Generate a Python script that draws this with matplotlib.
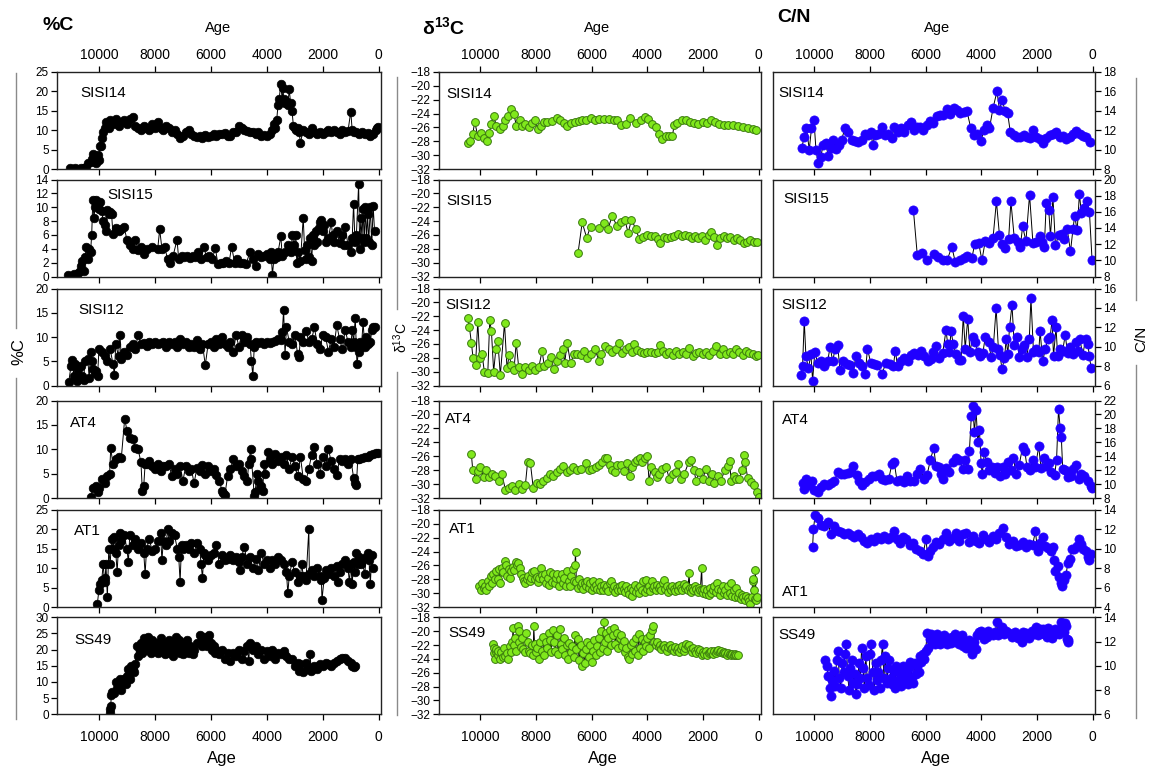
import matplotlib
matplotlib.use('Agg')
import matplotlib.pyplot as plt
from matplotlib.lines import Line2D

plt.rcParams['font.family'] = ['Liberation Sans', 'DejaVu Sans']
plt.rcParams['mathtext.fontset'] = 'custom'
plt.rcParams['mathtext.rm'] = 'Liberation Sans'
plt.rcParams['mathtext.bf'] = 'Liberation Sans:bold'
plt.rcParams['mathtext.it'] = 'Liberation Sans:italic'

# ---------------- data: (age, value) ----------------
cores = ['SISI14', 'SISI15', 'SISI12', 'AT4', 'AT1', 'SS49']
age_ticks = [10000, 8000, 6000, 4000, 2000, 0]

# %C
sisi14_pc = [(11050,0.2),(10950,0.1),(10850,0.2),(10750,0.1),(10650,0.3),(10550,0.2),(10450,0.5),(10380,1.5),(10300,1.8),(10250,2.5),(10200,3.8),(10150,2.8),(10100,1.5),(10050,3.5),(10000,2.2),(9980,6.0),(9940,5.8),(9900,8.0),(9850,9.5),(9800,10.5),(9750,12.0),(9700,11.0),(9650,10.5),(9600,12.5),(9500,11.5),(9400,12.8),(9300,11.0),(9200,12.0),(9100,12.5),(9000,11.5),(8900,13.0),(8800,13.5),(8700,11.0),(8600,10.5),(8500,10.0),(8400,11.0),(8300,10.5),(8200,10.0),(8100,11.5),(8000,10.5),(7900,12.0),(7800,10.5),(7700,10.0),(7600,11.0),(7500,10.5),(7400,9.5),(7300,10.0),(7200,9.0),(7100,8.0),(7000,8.5),(6900,9.5),(6800,10.0),(6700,9.0),(6600,8.5),(6500,8.3),(6400,8.5),(6300,8.0),(6200,8.8),(6100,8.3),(6000,8.5),(5900,9.0),(5800,8.5),(5700,9.0),(5600,9.0),(5500,9.2),(5400,8.5),(5300,8.5),(5200,9.5),(5100,9.5),(5000,11.0),(4900,10.5),(4800,10.0),(4700,9.8),(4600,9.5),(4500,9.5),(4400,9.0),(4300,9.5),(4200,8.5),(4100,8.8),(4000,8.5),(3900,9.0),(3800,10.0),(3750,11.5),(3700,10.5),(3650,12.5),(3600,16.5),(3560,18.0),(3500,22.0),(3450,17.5),(3420,21.0),(3400,18.0),(3350,17.0),(3300,17.5),(3250,16.5),(3200,20.5),(3150,17.0),(3100,15.0),(3050,11.0),(3000,10.5),(2950,10.0),(2900,10.5),(2850,9.5),(2800,6.8),(2700,10.0),(2600,9.5),(2500,9.0),(2400,10.5),(2300,9.5),(2200,9.0),(2100,9.5),(2000,9.0),(1900,9.5),(1800,10.0),(1700,9.5),(1600,10.0),(1500,9.5),(1400,9.0),(1300,10.0),(1200,9.5),(1100,9.8),(1000,14.8),(950,10.0),(900,9.5),(800,9.5),(700,9.0),(600,9.5),(500,9.0),(400,9.3),(300,8.5),(200,9.0),(100,10.0),(50,10.5),(20,10.8)]

sisi15_pc = [(11100,0.2),(11000,0.1),(10900,0.3),(10800,0.4),(10700,0.6),(10650,1.5),(10600,2.2),(10550,0.8),(10500,2.8),(10450,4.2),(10400,2.5),(10350,4.0),(10300,3.6),(10260,6.0),(10220,11.1),(10180,8.4),(10140,10.0),(10100,11.0),(10050,10.2),(10000,9.8),(9950,10.8),(9900,9.4),(9850,8.0),(9800,7.5),(9750,6.6),(9700,9.6),(9650,9.0),(9600,9.3),(9550,9.0),(9500,6.2),(9400,7.0),(9300,6.5),(9200,6.8),(9100,7.1),(9000,5.3),(8900,4.6),(8800,4.0),(8700,5.2),(8600,3.8),(8500,4.2),(8400,3.3),(8300,4.0),(8100,4.2),(7900,4.0),(7830,6.8),(7750,4.0),(7650,4.3),(7550,2.5),(7450,2.0),(7350,3.0),(7210,5.3),(7150,2.5),(7050,3.0),(6950,2.8),(6850,3.0),(6750,2.7),(6650,3.0),(6550,2.8),(6450,3.5),(6350,2.5),(6255,4.2),(6150,2.8),(6050,3.0),(5950,2.5),(5840,4.1),(5750,1.8),(5650,2.0),(5550,2.0),(5450,2.2),(5350,2.0),(5260,4.3),(5150,2.0),(5050,2.5),(4950,2.0),(4850,2.0),(4750,1.8),(4600,3.5),(4500,2.5),(4400,1.5),(4300,3.2),(4200,2.8),(4100,3.0),(4000,3.2),(3900,2.5),(3850,3.5),(3800,0.2),(3750,2.5),(3650,2.8),(3600,3.5),(3500,5.8),(3450,3.0),(3350,3.5),(3250,4.5),(3150,3.5),(3085,6.0),(3030,4.5),(2965,6.0),(2930,2.0),(2870,3.5),(2800,2.2),(2700,8.5),(2650,3.8),(2600,2.5),(2550,4.5),(2500,2.8),(2450,5.5),(2400,2.2),(2350,6.0),(2300,4.5),(2250,6.5),(2200,5.0),(2150,7.0),(2100,7.8),(2050,8.2),(2000,6.5),(1950,7.5),(1900,5.0),(1800,5.5),(1700,7.8),(1650,6.0),(1600,5.0),(1500,6.5),(1400,4.8),(1300,6.0),(1250,4.5),(1200,7.2),(1100,4.5),(1000,3.5),(950,5.5),(900,10.5),(850,5.0),(800,6.0),(720,13.3),(680,4.0),(640,8.5),(600,5.5),(560,9.8),(520,5.0),(480,10.0),(440,5.5),(400,9.0),(360,5.0),(300,10.0),(250,4.5),(200,10.2),(150,6.5)]

sisi12_pc = [(11080,0.7),(11000,4.0),(10950,5.2),(10900,2.0),(10850,4.5),(10800,1.0),(10750,3.5),(10700,1.5),(10650,4.0),(10600,2.0),(10550,1.2),(10500,5.0),(10400,5.5),(10350,1.5),(10300,7.0),(10250,5.0),(10200,3.5),(10150,2.5),(10100,3.0),(10050,2.0),(10000,7.5),(9900,7.0),(9800,6.0),(9700,5.0),(9600,7.5),(9500,4.5),(9450,2.2),(9400,8.5),(9300,6.0),(9250,10.5),(9200,5.5),(9100,7.0),(9000,6.2),(8900,8.0),(8800,8.5),(8700,7.5),(8600,10.5),(8500,8.5),(8400,8.8),(8300,8.2),(8200,9.0),(8100,8.5),(8000,9.0),(7900,8.5),(7800,8.8),(7700,9.0),(7600,8.0),(7500,9.0),(7400,8.5),(7300,9.0),(7200,8.0),(7100,9.5),(7000,8.5),(6900,9.0),(6800,8.0),(6700,8.5),(6600,8.0),(6500,9.3),(6400,7.5),(6300,8.5),(6200,4.2),(6100,8.5),(6000,9.0),(5900,8.0),(5800,9.5),(5700,8.5),(5600,10.0),(5500,8.5),(5400,8.0),(5300,9.0),(5200,7.0),(5100,10.5),(5000,8.0),(4900,10.5),(4800,9.0),(4700,10.0),(4600,8.5),(4550,5.0),(4500,2.0),(4450,8.0),(4400,9.0),(4300,8.8),(4200,9.0),(4100,8.5),(4000,9.0),(3900,8.8),(3800,9.0),(3700,9.2),(3600,9.5),(3500,9.3),(3450,11.0),(3400,15.5),(3350,6.3),(3300,12.0),(3200,9.0),(3100,8.5),(3000,10.5),(2900,6.5),(2850,5.8),(2800,10.0),(2700,9.0),(2600,11.3),(2500,9.0),(2400,9.5),(2300,12.0),(2200,8.5),(2100,7.5),(2000,10.5),(1900,10.0),(1800,7.0),(1700,9.5),(1600,8.0),(1500,12.5),(1400,9.5),(1300,7.5),(1200,11.5),(1100,9.0),(1000,8.0),(950,11.5),(900,9.0),(840,14.0),(800,8.0),(780,4.5),(720,7.0),(680,9.0),(620,8.0),(560,13.0),(500,8.0),(450,10.0),(400,8.5),(300,9.0),(250,11.5),(200,12.0),(150,12.0)]

at4_pc = [(10300,0.3),(10200,2.0),(10100,2.5),(10050,1.3),(10000,2.0),(9900,4.0),(9800,3.0),(9700,4.5),(9620,5.0),(9580,10.2),(9500,7.0),(9400,8.0),(9300,8.5),(9200,8.3),(9080,16.3),(9000,13.8),(8900,12.3),(8800,12.2),(8700,10.3),(8600,10.0),(8500,7.3),(8450,1.5),(8400,2.5),(8350,7.0),(8300,7.0),(8200,7.5),(8100,6.5),(8000,6.0),(7900,7.0),(7800,5.5),(7700,6.5),(7600,6.5),(7500,7.0),(7400,4.5),(7300,6.0),(7200,5.0),(7100,6.5),(7000,3.5),(6900,6.5),(6800,5.5),(6700,6.0),(6600,3.0),(6500,6.2),(6400,5.5),(6300,6.8),(6200,5.0),(6100,6.5),(6000,5.5),(5900,6.0),(5800,4.8),(5700,3.5),(5600,1.5),(5550,1.0),(5500,0.7),(5400,4.5),(5300,6.0),(5200,8.0),(5100,6.5),(5000,7.0),(4900,5.5),(4800,4.5),(4700,3.5),(4650,7.0),(4580,10.0),(4550,8.0),(4450,0.5),(4420,1.2),(4350,5.0),(4300,3.5),(4250,2.0),(4200,2.5),(4150,1.5),(4100,7.0),(4050,5.0),(3950,9.5),(3900,8.0),(3800,7.0),(3700,9.0),(3600,7.5),(3500,8.5),(3400,7.0),(3300,8.8),(3200,6.0),(3100,8.5),(3000,6.5),(2900,4.5),(2800,8.5),(2700,4.0),(2600,3.5),(2500,6.0),(2400,8.8),(2300,10.5),(2200,7.0),(2100,5.0),(2000,8.5),(1900,6.5),(1800,10.0),(1700,7.5),(1600,6.0),(1500,4.8),(1400,8.0),(1300,7.5),(1200,8.0),(1100,7.0),(1000,8.0),(900,4.2),(850,3.0),(800,2.6),(750,8.0),(700,8.0),(600,8.2),(500,8.5),(400,8.5),(300,8.8),(200,9.0),(100,9.2),(30,9.3)]

at1_pc = [(10060,0.7),(10000,4.5),(9950,6.0),(9900,7.0),(9850,11.0),(9800,6.5),(9780,7.5),(9750,11.0),(9700,2.5),(9650,15.0),(9600,11.0),(9550,17.5),(9500,15.0),(9450,18.0),(9400,14.0),(9350,9.0),(9300,16.0),(9250,19.0),(9200,17.0),(9100,18.5),(9000,15.0),(8950,11.5),(8900,18.5),(8800,16.0),(8700,17.5),(8600,15.0),(8500,16.5),(8400,14.0),(8350,8.5),(8300,15.0),(8200,17.5),(8100,14.5),(8000,15.0),(7900,17.0),(7800,19.0),(7750,12.0),(7700,17.0),(7600,16.0),(7550,20.0),(7500,17.0),(7400,19.0),(7300,18.5),(7200,15.0),(7150,13.0),(7100,6.5),(7050,16.0),(7000,15.0),(6900,16.0),(6800,15.0),(6700,16.5),(6600,14.0),(6500,16.5),(6400,15.0),(6350,11.0),(6300,7.5),(6250,14.0),(6200,13.5),(6100,12.0),(6000,13.5),(5900,14.0),(5800,16.0),(5700,11.0),(5600,13.5),(5500,12.0),(5400,12.5),(5300,13.5),(5200,12.0),(5100,13.0),(5000,11.5),(4950,9.5),(4900,13.0),(4800,15.5),(4700,11.0),(4600,13.0),(4500,10.0),(4400,12.5),(4300,9.5),(4200,14.0),(4100,11.0),(4000,12.0),(3900,10.0),(3800,12.0),(3700,11.0),(3600,13.0),(3500,12.0),(3400,11.0),(3300,9.0),(3250,3.5),(3200,8.0),(3100,11.5),(3000,9.0),(2900,6.5),(2800,8.0),(2750,11.0),(2700,8.0),(2600,7.0),(2500,20.0),(2480,8.5),(2400,9.5),(2300,8.0),(2200,10.0),(2100,8.0),(2050,7.0),(2030,1.8),(1950,7.5),(1900,9.5),(1800,8.5),(1700,10.0),(1600,8.0),(1500,10.5),(1450,6.5),(1400,9.0),(1300,11.0),(1200,12.0),(1100,10.0),(1050,6.5),(1000,11.0),(950,5.8),(900,11.5),(850,9.0),(800,14.0),(750,11.0),(700,13.0),(650,11.0),(600,12.0),(500,8.5),(450,13.0),(400,14.0),(350,12.0),(300,6.0),(250,13.5),(200,10.0)]

ss49_pc = [(9600,0.5),(9590,1.5),(9580,2.5),(9560,6.0),(9520,7.0),(9450,6.5),(9400,10.0),(9350,8.0),(9300,9.5),(9250,11.0),(9200,7.5),(9150,10.0),(9100,11.0),(9050,9.5),(9000,12.0),(8950,14.0),(8900,11.0),(8850,15.0),(8800,14.0),(8750,13.0),(8700,15.5),(8650,21.0),(8600,18.0),(8550,20.0),(8500,22.0),(8450,19.0),(8400,23.5),(8350,21.0),(8300,20.0),(8250,24.0),(8200,22.0),(8150,19.0),(8100,23.0),(8050,21.0),(8000,20.0),(7950,22.0),(7900,19.0),(7850,21.5),(7800,23.5),(7750,20.0),(7700,22.0),(7650,18.5),(7600,21.0),(7550,20.0),(7500,23.0),(7450,19.0),(7400,21.0),(7350,18.0),(7300,22.0),(7250,24.0),(7200,20.0),(7150,23.0),(7100,19.0),(7050,21.0),(7000,18.5),(6950,22.0),(6900,20.0),(6850,23.0),(6800,19.0),(6750,21.0),(6700,20.0),(6650,18.5),(6600,20.0),(6500,22.0),(6400,24.5),(6350,22.0),(6300,21.0),(6250,24.0),(6200,22.5),(6150,21.0),(6100,23.0),(6050,24.5),(6000,22.0),(5950,20.0),(5900,21.0),(5850,19.0),(5800,20.0),(5700,18.5),(5600,20.0),(5500,17.0),(5400,19.0),(5300,16.5),(5200,19.0),(5100,18.0),(5000,20.0),(4900,17.0),(4800,19.5),(4700,21.0),(4650,16.5),(4600,22.0),(4500,20.0),(4400,21.0),(4300,18.5),(4200,20.0),(4100,17.0),(4000,19.5),(3900,18.0),(3800,20.0),(3700,17.0),(3600,19.0),(3500,18.5),(3400,19.5),(3300,18.0),(3200,17.0),(3100,17.0),(3000,15.0),(2900,16.0),(2850,13.5),(2800,15.5),(2700,13.0),(2600,16.0),(2550,14.0),(2450,18.5),(2420,13.5),(2400,14.0),(2300,15.0),(2200,14.0),(2100,15.5),(2000,15.0),(1900,16.0),(1800,15.5),(1700,15.0),(1600,16.0),(1500,16.5),(1400,17.0),(1300,17.5),(1200,17.5),(1100,16.5),(1000,16.0),(950,15.0),(900,14.5),(850,15.0)]

# delta 13C
sisi14_d13c = [(10450,-28.3),(10360,-28.0),(10270,-27.0),(10200,-25.2),(10090,-27.2),(9970,-26.8),(9880,-27.5),(9760,-28.0),(9670,-26.8),(9610,-25.5),(9520,-24.3),(9420,-25.8),(9300,-26.2),(9190,-25.8),(9100,-25.0),(9010,-24.3),(8890,-23.3),(8800,-24.0),(8700,-25.8),(8580,-25.0),(8500,-25.8),(8380,-25.5),(8260,-26.0),(8140,-25.3),(8050,-25.0),(7920,-26.2),(7810,-25.8),(7720,-25.2),(7600,-25.2),(7420,-25.1),(7260,-24.7),(7120,-25.0),(7000,-25.3),(6880,-25.8),(6760,-25.3),(6600,-25.2),(6460,-25.1),(6340,-25.0),(6220,-25.0),(6040,-24.7),(5890,-25.0),(5740,-24.8),(5560,-24.8),(5380,-24.8),(5200,-25.0),(5080,-24.9),(4960,-25.7),(4780,-25.5),(4620,-24.7),(4420,-25.3),(4240,-24.9),(4090,-24.5),(3970,-24.8),(3850,-25.5),(3700,-26.0),(3580,-27.0),(3460,-27.6),(3340,-27.2),(3220,-27.3),(3100,-27.2),(3040,-25.7),(2920,-25.3),(2770,-25.0),(2620,-25.0),(2460,-25.2),(2320,-25.3),(2170,-25.5),(2020,-25.2),(1860,-25.3),(1720,-25.0),(1570,-25.2),(1420,-25.5),(1260,-25.6),(1120,-25.7),(940,-25.7),(760,-25.8),(580,-26.0),(400,-26.1),(220,-26.2),(100,-26.3)]

sisi15_d13c = [(6490,-28.6),(6340,-24.2),(6180,-26.4),(6040,-24.8),(5740,-25.0),(5560,-24.3),(5410,-25.1),(5260,-23.2),(5100,-24.7),(4960,-24.1),(4810,-23.8),(4690,-25.7),(4570,-23.8),(4420,-25.1),(4290,-26.6),(4140,-26.3),(4010,-26.0),(3860,-26.2),(3740,-26.1),(3620,-26.6),(3530,-27.2),(3410,-26.3),(3290,-26.5),(3150,-26.3),(3030,-26.2),(2900,-25.8),(2760,-26.1),(2640,-26.0),(2520,-26.2),(2400,-26.5),(2280,-26.1),(2170,-26.4),(2040,-26.1),(1920,-26.7),(1800,-26.0),(1710,-25.6),(1590,-26.3),(1500,-27.4),(1380,-26.5),(1260,-26.2),(1140,-26.5),(1020,-26.3),(900,-26.8),(780,-26.5),(660,-26.8),(540,-27.2),(420,-27.0),(300,-26.8),(180,-27.0),(60,-27.0)]

sisi12_d13c = [(10450,-22.3),(10390,-23.6),(10320,-25.8),(10260,-28.0),(10170,-29.0),(10090,-22.8),(10020,-28.0),(9940,-27.4),(9850,-30.1),(9730,-30.2),(9660,-22.6),(9600,-24.1),(9520,-30.0),(9440,-26.7),(9370,-25.6),(9280,-30.5),(9130,-23.0),(9040,-29.5),(8960,-27.6),(8890,-29.0),(8790,-29.8),(8710,-25.8),(8620,-29.4),(8500,-30.3),(8380,-29.3),(8260,-29.8),(8140,-29.2),(8020,-29.8),(7900,-29.4),(7780,-27.0),(7700,-29.2),(7580,-28.8),(7460,-27.9),(7360,-29.6),(7240,-28.5),(7120,-27.6),(7020,-26.7),(6970,-28.8),(6880,-25.8),(6760,-28.8),(6640,-27.5),(6520,-27.4),(6400,-27.6),(6280,-27.0),(6160,-28.0),(6040,-27.4),(5890,-26.7),(5740,-28.4),(5650,-27.5),(5530,-26.3),(5380,-26.8),(5260,-27.2),(5140,-26.7),(5020,-25.8),(4900,-27.3),(4780,-26.8),(4660,-26.5),(4540,-27.2),(4480,-26.0),(4360,-26.9),(4240,-27.2),(4120,-27.3),(4000,-27.1),(3860,-27.2),(3740,-27.3),(3620,-27.2),(3530,-26.2),(3450,-27.0),(3330,-27.5),(3210,-27.2),(3090,-27.6),(2970,-27.0),(2850,-27.4),(2730,-27.2),(2610,-27.5),(2490,-26.6),(2370,-27.8),(2250,-27.3),(2130,-27.2),(2010,-27.5),(1890,-27.2),(1770,-27.6),(1650,-27.0),(1530,-26.3),(1410,-27.4),(1290,-26.7),(1170,-27.5),(1050,-27.2),(930,-27.5),(810,-26.8),(700,-27.2),(580,-27.6),(460,-27.0),(360,-27.3),(220,-27.5),(100,-27.8),(40,-27.6)]

at4_d13c = [(10320,-25.7),(10270,-28.0),(10170,-29.2),(10090,-28.1),(10000,-27.5),(9880,-29.0),(9800,-28.0),(9700,-29.0),(9580,-28.6),(9460,-28.8),(9340,-29.5),(9220,-28.6),(9100,-30.8),(8980,-30.5),(8860,-30.3),(8740,-30.8),(8620,-30.0),(8500,-30.7),(8380,-30.1),(8300,-26.8),(8200,-27.0),(8100,-30.5),(7980,-29.8),(7860,-30.0),(7740,-29.6),(7620,-29.1),(7500,-28.6),(7380,-28.9),(7260,-28.2),(7140,-27.8),(7020,-27.4),(6900,-28.3),(6780,-28.0),(6660,-27.5),(6520,-28.0),(6380,-27.8),(6220,-27.0),(6100,-28.0),(5980,-27.8),(5860,-27.5),(5740,-27.2),(5620,-26.8),(5530,-26.2),(5440,-26.3),(5340,-27.3),(5260,-28.0),(5170,-28.3),(5080,-27.2),(4960,-27.2),(4840,-28.1),(4720,-27.0),(4620,-28.9),(4540,-27.6),(4440,-26.9),(4360,-26.5),(4260,-26.3),(4180,-26.8),(4090,-26.2),(4000,-25.9),(3940,-29.6),(3860,-27.5),(3740,-28.3),(3650,-29.0),(3580,-28.5),(3460,-27.8),(3330,-27.5),(3210,-29.3),(3090,-28.5),(2970,-28.3),(2890,-27.1),(2790,-29.2),(2670,-28.5),(2510,-26.8),(2430,-26.5),(2330,-28.0),(2250,-29.5),(2130,-28.2),(2010,-29.2),(1890,-27.8),(1770,-29.5),(1680,-28.5),(1590,-29.8),(1470,-28.8),(1350,-29.5),(1230,-28.0),(1110,-27.4),(1050,-26.7),(990,-29.6),(900,-28.8),(810,-29.2),(700,-29.2),(610,-28.0),(540,-25.8),(490,-26.8),(400,-29.1),(280,-29.7),(160,-30.2),(60,-31.2),(0,-31.8)]

at1_d13c = [(10030,-29.0),(9980,-29.6),(9930,-28.5),(9880,-29.3),(9830,-28.9),(9780,-29.5),(9730,-28.2),(9680,-29.0),(9630,-27.5),(9580,-28.5),(9530,-27.2),(9480,-28.0),(9430,-26.8),(9380,-27.9),(9330,-26.5),(9280,-28.6),(9230,-26.3),(9180,-27.0),(9130,-25.4),(9080,-26.0),(9030,-27.5),(8980,-26.5),(8930,-27.8),(8880,-26.8),(8830,-26.2),(8780,-26.7),(8730,-25.5),(8680,-26.0),(8630,-25.7),(8580,-26.4),(8530,-27.2),(8480,-27.8),(8430,-28.2),(8380,-28.5),(8330,-28.0),(8280,-27.5),(8230,-28.3),(8180,-27.8),(8130,-27.0),(8080,-26.8),(8030,-28.0),(7980,-27.6),(7930,-28.4),(7880,-27.8),(7830,-26.4),(7780,-27.4),(7730,-28.0),(7680,-27.2),(7630,-28.5),(7580,-27.8),(7530,-28.8),(7480,-27.0),(7430,-28.4),(7380,-27.3),(7330,-28.6),(7280,-27.8),(7230,-27.2),(7180,-28.9),(7130,-28.0),(7080,-27.2),(7030,-28.6),(6980,-27.8),(6930,-28.9),(6880,-26.8),(6830,-28.2),(6780,-29.0),(6730,-27.5),(6680,-26.5),(6630,-28.3),(6600,-25.9),(6580,-24.1),(6550,-28.4),(6500,-29.2),(6450,-28.0),(6400,-29.0),(6350,-28.5),(6300,-29.4),(6250,-28.6),(6200,-29.0),(6150,-28.2),(6100,-29.3),(6050,-28.5),(6000,-29.6),(5950,-28.3),(5900,-29.1),(5850,-28.8),(5800,-29.4),(5750,-28.4),(5700,-29.5),(5650,-29.0),(5600,-29.6),(5550,-28.8),(5500,-29.3),(5450,-29.0),(5400,-29.7),(5350,-28.6),(5300,-28.2),(5250,-29.4),(5200,-29.0),(5150,-29.8),(5100,-29.2),(5050,-29.5),(5000,-29.0),(4950,-29.6),(4900,-28.8),(4850,-29.4),(4800,-29.8),(4750,-29.0),(4700,-29.6),(4650,-30.1),(4600,-29.2),(4550,-30.4),(4500,-29.5),(4450,-28.8),(4400,-29.8),(4350,-29.2),(4300,-30.0),(4250,-28.9),(4200,-29.6),(4150,-28.3),(4100,-29.8),(4050,-28.1),(4000,-29.4),(3950,-28.9),(3900,-29.7),(3850,-28.2),(3800,-29.3),(3750,-29.0),(3700,-29.6),(3650,-28.8),(3600,-29.3),(3550,-29.0),(3500,-29.5),(3450,-28.6),(3400,-28.1),(3350,-29.4),(3300,-29.0),(3250,-29.8),(3200,-29.3),(3150,-29.6),(3100,-29.0),(3050,-29.4),(3000,-29.7),(2950,-29.0),(2900,-29.5),(2850,-28.8),(2800,-29.2),(2750,-29.6),(2700,-28.7),(2650,-29.3),(2600,-29.0),(2550,-29.6),(2500,-27.1),(2480,-29.3),(2450,-29.8),(2400,-29.2),(2350,-29.6),(2300,-29.0),(2250,-29.4),(2200,-29.8),(2150,-29.3),(2100,-29.6),(2050,-26.3),(2030,-29.5),(2000,-30.0),(1950,-29.4),(1900,-30.1),(1850,-29.6),(1800,-30.3),(1750,-29.2),(1700,-30.0),(1650,-29.5),(1600,-29.0),(1550,-29.8),(1500,-28.6),(1450,-29.4),(1400,-30.2),(1350,-29.5),(1300,-28.9),(1250,-30.0),(1200,-29.6),(1150,-30.3),(1100,-29.0),(1050,-30.0),(1000,-28.6),(950,-30.4),(900,-29.6),(850,-30.5),(800,-29.3),(750,-30.6),(700,-30.0),(650,-30.8),(600,-30.2),(550,-30.5),(500,-31.0),(450,-30.4),(400,-30.7),(350,-31.2),(300,-31.6),(250,-30.5),(220,-28.3),(200,-28.0),(180,-29.5),(150,-30.8),(120,-26.7),(100,-31.0),(80,-30.6)]

ss49_d13c = [(9550,-21.8),(9520,-22.5),(9500,-23.2),(9480,-24.0),(9450,-23.0),(9420,-22.6),(9380,-23.5),(9350,-22.8),(9300,-24.0),(9250,-23.0),(9200,-23.8),(9150,-22.5),(9100,-23.6),(9050,-23.2),(9000,-24.0),(8950,-22.2),(8900,-23.0),(8850,-21.5),(8820,-19.5),(8800,-22.0),(8750,-21.0),(8700,-22.8),(8650,-19.2),(8620,-20.0),(8600,-21.5),(8550,-22.3),(8500,-21.0),(8450,-22.6),(8400,-23.0),(8350,-20.3),(8300,-21.5),(8250,-22.8),(8200,-23.2),(8150,-22.0),(8100,-23.5),(8080,-19.3),(8050,-21.8),(8000,-23.0),(7950,-22.4),(7900,-24.0),(7850,-21.5),(7800,-22.8),(7750,-20.8),(7700,-23.4),(7650,-21.6),(7600,-22.5),(7550,-20.2),(7500,-21.3),(7450,-23.0),(7400,-19.8),(7350,-21.5),(7300,-22.8),(7250,-20.5),(7200,-23.3),(7150,-19.7),(7100,-21.8),(7050,-22.6),(7000,-21.0),(6950,-23.5),(6900,-22.0),(6850,-24.0),(6800,-21.7),(6750,-23.0),(6700,-22.2),(6650,-23.8),(6600,-20.5),(6550,-22.6),(6500,-21.2),(6450,-24.2),(6400,-22.0),(6350,-25.0),(6300,-23.2),(6250,-24.6),(6200,-22.6),(6150,-21.5),(6100,-23.8),(6050,-22.0),(6000,-24.4),(5950,-22.8),(5900,-21.3),(5850,-23.5),(5800,-22.2),(5750,-21.0),(5700,-23.0),(5650,-20.0),(5600,-22.4),(5560,-18.7),(5530,-21.5),(5500,-20.2),(5450,-22.8),(5400,-21.0),(5350,-19.8),(5300,-22.0),(5250,-20.5),(5200,-19.5),(5150,-21.8),(5100,-20.2),(5050,-22.5),(5000,-21.0),(4950,-20.5),(4900,-22.2),(4850,-21.4),(4800,-23.0),(4750,-22.5),(4700,-23.8),(4650,-24.0),(4600,-22.0),(4550,-23.3),(4500,-21.6),(4450,-22.8),(4400,-21.0),(4350,-23.4),(4300,-20.4),(4250,-22.5),(4200,-21.2),(4150,-22.8),(4100,-21.6),(4050,-22.2),(4000,-21.0),(3950,-22.4),(3900,-20.6),(3850,-19.8),(3800,-19.3),(3750,-21.5),(3700,-22.0),(3650,-21.6),(3600,-22.3),(3550,-22.0),(3500,-22.6),(3450,-22.2),(3400,-22.0),(3350,-22.5),(3300,-22.8),(3250,-22.3),(3200,-22.0),(3150,-22.6),(3100,-22.4),(3050,-22.9),(3000,-22.3),(2950,-22.7),(2900,-22.5),(2850,-23.0),(2800,-22.6),(2750,-22.2),(2700,-22.8),(2650,-22.4),(2600,-21.8),(2550,-22.2),(2500,-22.0),(2450,-22.6),(2400,-23.0),(2350,-22.5),(2300,-22.8),(2250,-23.2),(2200,-22.6),(2150,-23.0),(2100,-22.7),(2050,-23.4),(2000,-23.0),(1950,-23.3),(1900,-22.8),(1850,-23.5),(1800,-23.2),(1750,-23.0),(1700,-22.8),(1650,-23.3),(1600,-22.9),(1550,-23.2),(1500,-22.8),(1450,-22.7),(1400,-23.0),(1350,-22.8),(1300,-23.2),(1250,-23.0),(1200,-23.1),(1150,-23.4),(1100,-23.2),(1050,-23.3),(1000,-23.4),(950,-23.3),(900,-23.5),(850,-23.3),(800,-23.4),(760,-23.4)]

# C/N
sisi14_cn = [(10450,10.2),(10360,11.3),(10280,12.2),(10180,10.0),(10100,12.2),(10010,13.0),(9940,10.0),(9860,8.6),(9770,9.2),(9680,10.5),(9590,10.7),(9500,9.3),(9410,10.2),(9320,11.0),(9220,10.1),(9120,10.5),(9020,11.0),(8900,12.2),(8780,11.8),(8660,11.0),(8540,10.9),(8420,10.8),(8300,11.0),(8180,11.6),(8060,11.5),(7970,11.8),(7900,10.5),(7820,11.5),(7700,11.6),(7580,12.3),(7460,11.5),(7340,11.6),(7220,11.2),(7130,12.3),(7010,11.8),(6890,12.2),(6770,11.8),(6650,12.5),(6530,12.8),(6410,12.0),(6320,12.3),(6200,12.3),(6080,12.0),(5960,12.5),(5840,12.9),(5720,12.7),(5600,13.5),(5480,13.6),(5360,13.6),(5240,14.2),(5120,13.7),(5000,14.3),(4880,14.1),(4760,13.8),(4640,13.9),(4520,14.0),(4380,12.2),(4260,11.5),(4140,11.6),(4020,10.9),(3900,12.0),(3800,12.5),(3710,12.2),(3580,14.3),(3440,16.0),(3350,14.1),(3250,15.1),(3150,14.0),(3060,13.8),(2960,11.8),(2840,11.5),(2720,11.3),(2600,11.3),(2480,11.5),(2360,11.3),(2240,11.2),(2150,12.0),(2030,11.3),(1910,11.1),(1790,10.7),(1670,11.2),(1550,11.5),(1430,11.6),(1310,11.8),(1190,11.3),(1070,11.4),(950,11.1),(830,11.3),(710,11.6),(590,11.9),(470,11.6),(350,11.4),(230,11.3),(110,10.8)]

sisi15_cn = [(6440,16.2),(6300,10.6),(6120,10.9),(5960,10.0),(5700,10.8),(5540,10.4),(5360,10.1),(5220,10.1),(5060,11.7),(4940,9.8),(4780,10.0),(4640,10.3),(4500,10.5),(4340,10.3),(4240,12.0),(4100,12.2),(3980,10.0),(3860,12.4),(3710,12.2),(3580,12.8),(3460,17.3),(3350,13.1),(3260,12.0),(3140,11.5),(3020,12.7),(2940,17.3),(2820,12.8),(2700,12.3),(2600,11.7),(2520,14.2),(2400,12.4),(2270,18.1),(2150,12.2),(2030,12.3),(1910,13.0),(1820,12.3),(1740,11.7),(1670,17.1),(1580,16.2),(1520,13.0),(1430,17.8),(1340,11.9),(1220,13.1),(1100,13.3),(1020,12.7),(920,13.9),(800,11.1),(710,13.9),(650,15.5),(560,13.7),(480,18.2),(410,15.9),(300,16.5),(200,17.3),(120,16.0),(25,10.0)]

sisi12_cn = [(10480,7.1),(10420,8.0),(10360,12.7),(10300,9.0),(10210,7.8),(10120,9.2),(10060,6.5),(9980,9.5),(9880,8.3),(9760,8.5),(9640,8.0),(9520,8.5),(9430,10.0),(9340,8.5),(9250,9.8),(9160,10.2),(9080,7.6),(8960,8.5),(8840,8.2),(8720,8.1),(8600,7.3),(8510,9.0),(8390,8.3),(8270,8.0),(8170,7.2),(8090,9.8),(7970,8.3),(7850,8.2),(7730,8.1),(7570,7.2),(7430,8.3),(7280,8.2),(7160,8.0),(7090,9.6),(7010,8.0),(6890,8.5),(6770,8.8),(6650,8.5),(6530,9.1),(6410,9.3),(6290,9.1),(6170,9.6),(6050,9.0),(5930,8.5),(5810,8.7),(5750,9.5),(5630,10.1),(5510,8.8),(5390,9.3),(5270,11.7),(5210,10.3),(5150,9.5),(5090,11.6),(5010,10.3),(4910,9.2),(4820,8.6),(4730,8.6),(4650,13.2),(4580,9.8),(4490,12.9),(4410,9.5),(4310,11.0),(4220,10.5),(4130,9.5),(4050,9.0),(3950,9.3),(3860,11.0),(3740,10.5),(3650,8.9),(3570,10.0),(3470,14.0),(3390,9.8),(3330,9.1),(3260,7.7),(3170,8.8),(3110,10.8),(3050,9.2),(2990,12.0),(2900,14.3),(2820,10.2),(2720,11.0),(2640,8.9),(2540,9.8),(2460,10.2),(2370,8.9),(2280,10.8),(2220,15.0),(2130,9.5),(2040,9.8),(1940,9.5),(1890,11.6),(1800,8.5),(1700,9.8),(1620,10.8),(1530,11.0),(1460,12.8),(1410,9.0),(1320,12.0),(1260,9.0),(1170,9.8),(1080,9.6),(990,11.2),(900,9.3),(810,10.0),(720,9.2),(620,10.5),(540,9.6),(460,10.8),(360,9.1),(260,10.8),(180,10.3),(120,9.0),(60,7.8)]

at4_cn = [(10420,10.2),(10360,9.3),(10280,10.7),(10180,9.9),(10090,10.5),(10000,9.2),(9880,8.9),(9760,9.6),(9640,10.0),(9520,9.8),(9400,10.1),(9280,10.4),(9160,11.7),(9040,11.5),(8920,11.4),(8800,11.6),(8680,11.8),(8600,12.6),(8480,11.3),(8390,10.5),(8290,9.9),(8170,10.3),(8050,10.8),(7930,11.1),(7810,11.2),(7690,11.5),(7570,10.8),(7450,10.6),(7330,10.7),(7210,12.9),(7130,13.1),(7030,10.5),(6910,10.6),(6790,10.3),(6670,11.2),(6550,10.5),(6430,10.5),(6310,11.5),(6190,12.2),(6070,10.8),(5950,11.3),(5830,13.5),(5710,15.2),(5630,12.6),(5530,12.4),(5450,11.4),(5360,10.8),(5270,12.3),(5150,11.8),(5030,13.2),(4910,13.7),(4790,13.4),(4670,12.2),(4580,13.5),(4490,12.2),(4430,14.8),(4360,19.8),(4310,21.2),(4250,17.5),(4190,20.6),(4130,16.0),(4070,17.8),(4010,13.0),(3970,11.4),(3890,14.6),(3810,13.2),(3710,12.0),(3620,12.5),(3520,11.6),(3430,12.5),(3330,11.2),(3230,12.5),(3140,11.5),(3040,13.2),(2950,12.0),(2850,13.8),(2760,11.5),(2640,12.8),(2520,15.3),(2440,14.7),(2360,12.4),(2250,12.0),(2160,13.5),(2060,12.5),(1940,15.4),(1860,12.3),(1760,13.8),(1680,12.6),(1580,13.0),(1490,11.8),(1370,11.3),(1300,13.5),(1230,20.8),(1170,18.0),(1130,16.8),(1080,12.2),(990,12.0),(890,11.0),(790,11.2),(700,12.2),(600,12.8),(500,10.8),(410,11.4),(300,11.1),(180,10.5),(80,9.7),(20,9.5)]

at1_cn = [(10060,10.2),(10030,12.0),(9970,13.5),(9850,13.2),(9760,12.5),(9640,12.3),(9520,12.8),(9400,11.5),(9280,12.3),(9160,11.8),(9040,11.7),(8920,11.5),(8800,11.6),(8680,11.4),(8560,11.2),(8440,11.5),(8330,11.2),(8210,10.8),(8090,10.6),(7970,11.0),(7850,10.8),(7730,11.2),(7610,11.0),(7490,11.3),(7370,11.0),(7250,11.2),(7150,11.8),(7040,11.0),(6920,10.6),(6800,11.2),(6690,11.0),(6570,10.4),(6450,10.6),(6330,10.0),(6210,9.8),(6090,9.5),(5990,11.0),(5930,9.3),(5850,9.8),(5750,10.2),(5630,10.7),(5510,10.5),(5390,11.0),(5270,11.6),(5150,10.8),(5030,11.1),(4910,11.6),(4790,10.8),(4670,11.5),(4550,11.6),(4430,10.7),(4310,11.3),(4190,10.8),(4070,10.6),(3950,11.4),(3830,11.0),(3710,10.7),(3590,11.3),(3470,11.0),(3350,11.6),(3230,12.1),(3110,11.2),(3000,10.5),(2880,10.8),(2760,10.3),(2640,10.4),(2520,10.7),(2400,10.2),(2280,10.5),(2160,10.4),(2060,11.8),(1980,9.8),(1890,10.6),(1800,11.2),(1700,10.3),(1610,10.1),(1510,9.8),(1440,10.2),(1390,8.8),(1340,7.7),(1260,8.2),(1200,7.1),(1140,6.5),(1100,6.2),(1030,6.8),(960,7.3),(900,8.5),(810,9.0),(750,10.0),(660,10.0),(580,10.3),(500,11.0),(420,10.5),(340,10.0),(240,9.8),(180,9.2),(120,8.8),(50,9.5)]

ss49_cn = [(9600,10.5),(9550,10.0),(9500,9.2),(9450,8.2),(9400,7.5),(9350,8.8),(9300,9.6),(9250,8.3),(9200,10.5),(9150,11.2),(9100,9.0),(9050,8.2),(9000,10.2),(8950,9.5),(8900,11.0),(8850,11.8),(8800,9.2),(8750,8.0),(8700,9.8),(8650,10.5),(8600,8.6),(8550,9.3),(8500,7.7),(8450,8.5),(8400,10.2),(8350,9.0),(8300,11.5),(8250,9.8),(8200,8.2),(8150,10.8),(8100,9.0),(8050,8.4),(8000,11.0),(7950,11.8),(7900,9.5),(7850,8.0),(7800,10.2),(7750,8.8),(7700,9.5),(7650,8.2),(7600,10.5),(7550,11.8),(7500,9.0),(7450,10.8),(7400,8.6),(7350,9.8),(7300,10.5),(7250,9.0),(7200,8.5),(7150,9.6),(7100,8.2),(7050,10.0),(7000,8.8),(6950,9.5),(6900,8.3),(6850,9.2),(6800,10.0),(6750,8.8),(6700,9.5),(6650,8.5),(6600,9.8),(6550,10.3),(6500,9.1),(6450,8.6),(6400,10.2),(6350,9.3),(6300,10.0),(6250,9.5),(6200,10.8),(6150,10.3),(6100,11.0),(6050,10.6),(6000,11.2),(5950,12.7),(5900,11.5),(5850,12.2),(5800,12.6),(5750,12.0),(5700,12.4),(5650,11.8),(5600,12.6),(5550,12.2),(5500,11.8),(5450,12.3),(5400,12.0),(5350,12.5),(5300,12.1),(5250,11.8),(5200,12.3),(5150,12.0),(5100,11.9),(5050,12.4),(5000,12.2),(4950,12.6),(4900,12.0),(4850,12.3),(4800,11.8),(4750,12.2),(4700,12.5),(4650,11.6),(4600,12.0),(4550,11.5),(4500,11.8),(4450,12.1),(4400,11.5),(4350,11.0),(4300,11.7),(4250,12.0),(4200,11.4),(4150,12.5),(4100,12.8),(4050,12.6),(4000,12.9),(3950,12.5),(3900,12.2),(3850,12.7),(3800,12.4),(3750,12.9),(3700,12.6),(3600,12.5),(3500,12.8),(3450,13.6),(3400,12.5),(3300,12.8),(3250,13.2),(3200,12.6),(3100,12.9),(3000,12.7),(2900,12.4),(2800,12.8),(2700,12.3),(2600,12.5),(2550,12.0),(2500,12.8),(2450,12.4),(2400,12.7),(2300,12.3),(2200,12.9),(2100,12.6),(2050,13.2),(2000,12.8),(1950,12.5),(1900,13.0),(1850,12.7),(1800,13.0),(1750,12.6),(1700,12.8),(1650,12.4),(1600,13.1),(1550,12.7),(1500,12.9),(1450,12.3),(1400,12.6),(1350,13.0),(1300,12.7),(1250,12.9),(1200,12.6),(1150,13.6),(1100,13.2),(1050,12.8),(1000,13.5),(950,13.3),(920,12.2),(900,12.0),(880,12.1)]

pc_series = [sisi14_pc, sisi15_pc, sisi12_pc, at4_pc, at1_pc, ss49_pc]
d13c_series = [sisi14_d13c, sisi15_d13c, sisi12_d13c, at4_d13c, at1_d13c, ss49_d13c]
cn_series = [sisi14_cn, sisi15_cn, sisi12_cn, at4_cn, at1_cn, ss49_cn]

pc_ranges = [(0, 25, 5), (0, 14, 2), (0, 20, 5), (0, 20, 5), (0, 25, 5), (0, 30, 5)]
d13c_ranges = [(-32, -18, 2)] * 6
cn_ranges = [(8, 18, 2), (8, 20, 2), (6, 16, 2), (8, 22, 2), (4, 14, 2), (6, 14, 2)]

# ---------------- layout (pixels) ----------------
W, H = 1150, 767
col_x = [(57, 381), (438.5, 761), (772.5, 1095)]
row_y = [(72, 169), (179.5, 276.5), (288.5, 385.5), (400.5, 498), (510, 607), (617.3, 714.3)]

label_pos = [
    [(0.071, 0.86), (0.154, 0.91), (0.065, 0.85), (0.040, 0.84), (0.052, 0.86), (0.055, 0.84)],
    [(0.025, 0.85), (0.025, 0.85), (0.020, 0.90), (0.020, 0.885), (0.032, 0.88), (0.032, 0.91)],
    [(0.017, 0.86), (0.033, 0.875), (0.028, 0.90), (0.028, 0.87), (0.028, 0.23), (0.017, 0.89)],
]

styles = [
    dict(marker='o', ms=6.2, mfc='black', mec='black', mew=0.5),
    dict(marker='o', ms=5.6, mfc='#80e81c', mec='#3a7a0e', mew=0.7),
    dict(marker='o', ms=6.6, mfc='#2000ff', mec='#2000ff', mew=0.5),
]

fig = plt.figure(figsize=(W / 100, H / 100), dpi=100)

all_series = [pc_series, d13c_series, cn_series]
all_ranges = [pc_ranges, d13c_ranges, cn_ranges]

for c in range(3):
    for r in range(6):
        x0, x1 = col_x[c]
        yt, yb = row_y[r]
        ax = fig.add_axes([x0 / W, 1 - yb / H, (x1 - x0) / W, (yb - yt) / H])
        data = all_series[c][r]
        ages = [p[0] for p in data]
        vals = [p[1] for p in data]
        ax.plot(ages, vals, '-', color='black', lw=0.7, zorder=1)
        ax.plot(ages, vals, linestyle='none', zorder=2, **styles[c])
        lo, hi, st = all_ranges[c][r]
        ax.set_ylim(lo, hi)
        ax.set_yticks(list(range(lo, hi + 1, st)))
        ax.set_xlim(11500, -80)
        ax.set_xticks(age_ticks)
        for s in ax.spines.values():
            s.set_linewidth(1.0)
            s.set_color('#222222')
        ax.tick_params(axis='x', direction='out', length=4, width=0.9,
                       labelsize=10, pad=3,
                       top=(r == 0), labeltop=(r == 0),
                       bottom=True, labelbottom=(r == 5))
        if r == 5:
            ax.tick_params(axis='x', pad=7)
        if c == 2:
            ax.yaxis.tick_right()
            ax.tick_params(axis='y', direction='out', length=4, width=0.9,
                           labelsize=8.5, pad=2, left=False, right=True)
        else:
            ax.tick_params(axis='y', direction='out', length=4, width=0.9,
                           labelsize=8.5, pad=2)
        lx, ly = label_pos[c][r]
        ax.text(lx, ly, cores[r], transform=ax.transAxes, fontsize=11,
                ha='left', va='top')

# headers
fig.text(58 / W, 1 - 25 / H, '%C', fontsize=14, fontweight='bold', ha='center', va='center')
fig.text(444 / W, 1 - 27 / H, r'δ$^{\mathbf{13}}$C', fontsize=14, fontweight='bold', ha='center', va='center')
fig.text(794 / W, 1 - 17 / H, 'C/N', fontsize=14, fontweight='bold', ha='center', va='center')

# Age labels
for xp in (218, 597, 937):
    fig.text(xp / W, 1 - 28 / H, 'Age', fontsize=10.5, ha='center', va='center')
for xp in (222, 603, 936):
    fig.text(xp / W, 1 - 759 / H, 'Age', fontsize=12, ha='center', va='center')

# y-axis labels
fig.text(19 / W, 1 - 352 / H, '%C', fontsize=12, rotation=90, ha='center', va='center')
fig.text(401 / W, 1 - 338 / H, r'δ$^{13}$C', fontsize=10, rotation=90, ha='center', va='center')
fig.text(1141 / W, 1 - 339 / H, 'C/N', fontsize=11, rotation=90, ha='center', va='center')

# decorative bracket lines
seg = [(16, 73, 328), (16, 378, 719), (397, 77, 309), (397, 372, 715), (1136, 78, 300), (1136, 365, 718)]
for xp, y0, y1 in seg:
    fig.add_artist(Line2D([xp / W, xp / W], [1 - y0 / H, 1 - y1 / H],
                          transform=fig.transFigure, color='#8a8a8a', lw=1.0))

fig.savefig('out.png', dpi=100)
